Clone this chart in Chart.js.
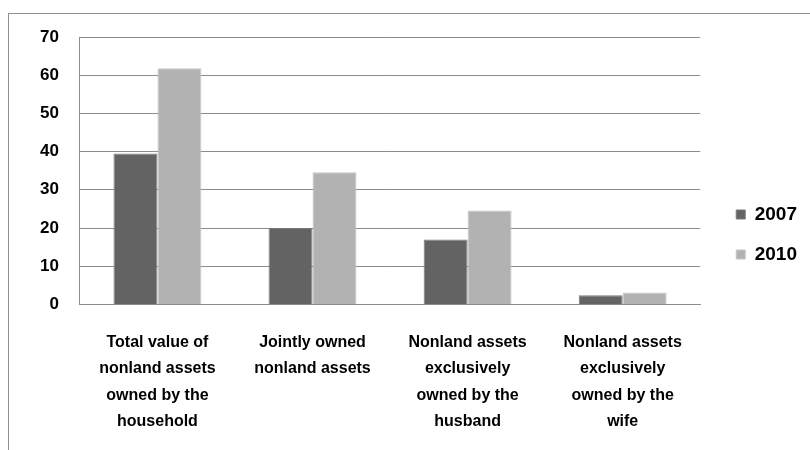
<!DOCTYPE html>
<html>
<head>
<meta charset="utf-8">
<script src="https://cdn.jsdelivr.net/npm/chart.js@4"></script>
<style>
  html, body { margin: 0; padding: 0; background: #fff; }
  #wrap { position: relative; width: 810px; height: 450px; }
  #frame { position: absolute; left: 8px; top: 13px; right: -2px; bottom: -2px; border-left: 1px solid #8f8f8f; border-top: 1px solid #8f8f8f; }
  canvas { position: absolute; left: 0; top: 0; }
</style>
</head>
<body>
<div id="wrap">
  <div id="frame"></div>
  <canvas id="assetChart" width="810" height="450"></canvas>
</div>
<script>
// DATA
const categories = [
  ['Total value of', 'nonland assets', 'owned by the', 'household'],
  ['Jointly owned', 'nonland assets'],
  ['Nonland assets', 'exclusively', 'owned by the', 'husband'],
  ['Nonland assets', 'exclusively', 'owned by the', 'wife']
];
const seriesNames = ['2007', '2010'];
const values2007 = [39.5, 20, 17, 2.4];
const values2010 = [61.8, 34.6, 24.6, 3.1];
const yTicks = [0, 10, 20, 30, 40, 50, 60, 70];

const FONT = '"Liberation Sans", Arial, sans-serif';
const GRID = '#8c8c8c';

// lift the legend a little (it is centred on the whole frame in the original)
const legendLift = {
  id: 'legendLift',
  afterLayout(chart) {
    chart.legend.top -= 14;
    chart.legend.bottom -= 14;
    chart.legend.left += 1;
    chart.legend.right += 1;
  }
};

const ctx = document.getElementById('assetChart').getContext('2d');
new Chart(ctx, {
  type: 'bar',
  data: {
    labels: categories,
    datasets: [
      { label: seriesNames[0], data: values2007, backgroundColor: '#636363', borderColor: '#7a7a7a', borderWidth: 1 },
      { label: seriesNames[1], data: values2010, backgroundColor: '#b2b2b2', borderColor: '#c6c6c6', borderWidth: 1 }
    ]
  },
  options: {
    responsive: false,
    animation: false,
    layout: { padding: { top: 37, left: 19, right: 4, bottom: -10 } },
    datasets: { bar: { categoryPercentage: 0.567, barPercentage: 1 } },
    plugins: {
      tooltip: { enabled: false },
      legend: {
        position: 'right',
        labels: {
          boxWidth: 9, boxHeight: 9, padding: 21, color: '#000',
          font: { family: FONT, size: 19, weight: 'bold' }
        }
      }
    },
    scales: {
      x: {
        grid: { display: false, drawTicks: false },
        border: { color: GRID },
        ticks: {
          color: '#000', maxRotation: 0, autoSkip: false, padding: 25,
          font: { family: FONT, size: 16, weight: 'bold', lineHeight: 1.65 }
        }
      },
      y: {
        min: 0, max: 70,
        afterBuildTicks: axis => { axis.ticks = yTicks.map(v => ({ value: v })); },
        grid: { color: GRID, drawTicks: false },
        border: { color: GRID },
        ticks: {
          color: '#000', padding: 21,
          font: { family: FONT, size: 17, weight: 'bold' }
        }
      },
      // empty spacer between the plot and the legend
      gap: {
        position: 'right', display: true,
        grid: { display: false, drawTicks: false },
        border: { display: false },
        ticks: { display: false },
        afterFit: axis => { axis.width = 14; }
      }
    }
  },
  plugins: [legendLift]
});
</script>
</body>
</html>
